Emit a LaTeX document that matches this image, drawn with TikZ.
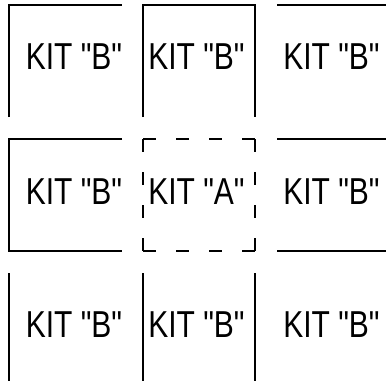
\documentclass[tikz,border=0pt]{standalone}
\usepackage{fontspec}
\newfontfamily\kitfont{Liberation Sans}[FakeStretch=0.8]
\usetikzlibrary{positioning}
\tikzset{
	wall/.style={line width=1.6pt, black},
	openwall/.style={wall, dash pattern=on 13pt off 20pt}
}
\begin{document}
\begin{tikzpicture}[
		x=1pt, y=-1pt,
		kit/.style={font=\kitfont\fontsize{37.5}{40}\selectfont, inner sep=0pt, anchor=center}
		]
		\useasboundingbox (0,0) rectangle (386,381);
		
		\node[kit] (kitB11) at (74,56.5) {KIT "B"};
		\node[kit] (kitB12) at (196.5,56.5) {KIT "B"};
		\node[kit] (kitB13) at (331.5,56.5) {KIT "B"};
		
		\node[kit] (kitB21) at (74,191.5) {KIT "B"};
		\node[kit] (kitA22) at (196.5,191.5) {KIT "A"};
		\node[kit] (kitB23) at (331.5,191.5) {KIT "B"};
		
		\node[kit] (kitB31) at (74,325) {KIT "B"};
		\node[kit] (kitB32) at (196.5,325) {KIT "B"};
		\node[kit] (kitB33) at (331.5,325) {KIT "B"};
		
		\draw[wall] (9,117) -- (9,5) -- (122,5);
		\draw[wall] (143,117) -- (143,5) -- (255,5) -- (255,117);
		\draw[wall] (277,5) -- (386,5);
		
		\draw[wall] (122,139) -- (9,139) -- (9,251) -- (122,251);
		\draw[openwall] (143,139) -- (255,139) (255,139) -- (255,251)
		(143,139) -- (143,251) (143,251) -- (255,251);
		\draw[wall] (277,139) -- (386,139);
		\draw[wall] (277,251) -- (386,251);
		
		\draw[wall] (9,273) -- (9,381);
		\draw[wall] (143,273) -- (143,381);
		\draw[wall] (255,273) -- (255,381);
		
	\end{tikzpicture}
\end{document}
